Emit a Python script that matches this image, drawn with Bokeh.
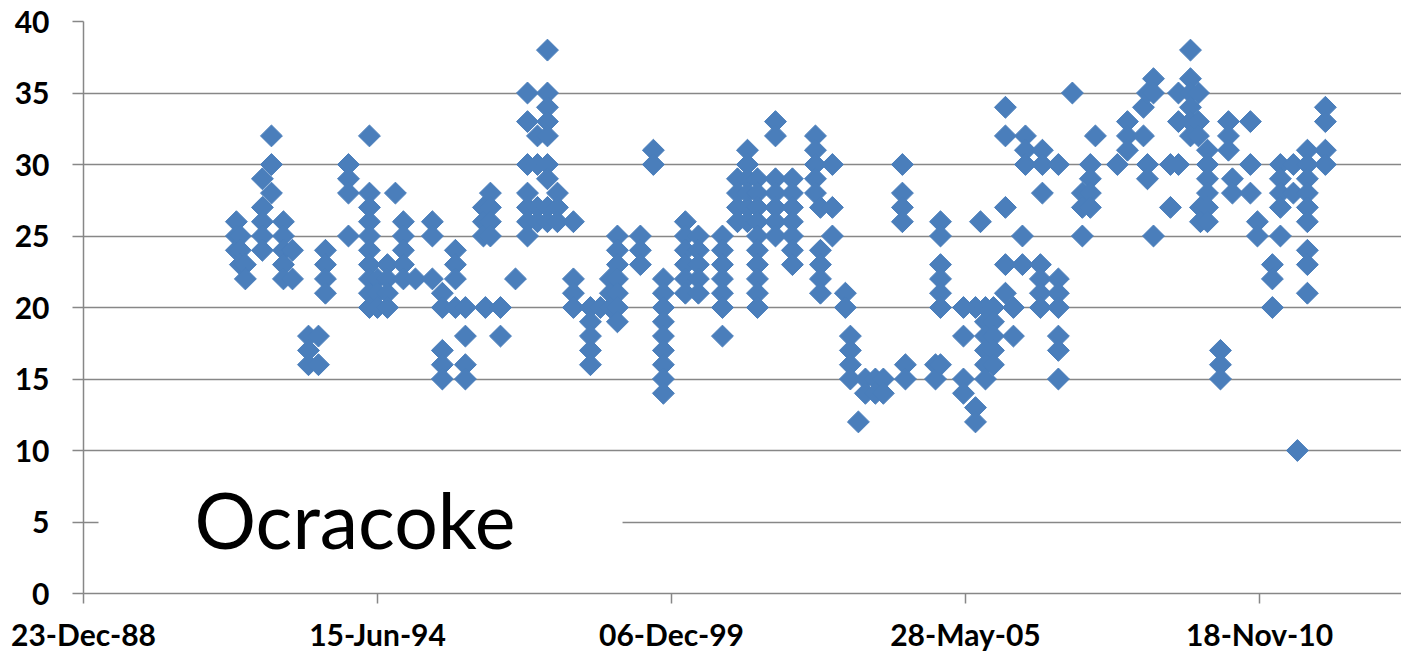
import datetime as dt
from bokeh.plotting import figure
from bokeh.models import (FixedTicker, DatetimeTickFormatter, BoxAnnotation, Label,
                          ColumnDataSource, Range1d)
from bokeh.embed import file_html
from bokeh.resources import INLINE

# ---- data: sampling date (decimal year) and values ----
sample_year = [
    1991.825, 1991.899, 1991.992, 1992.309, 1992.477, 1992.700, 1992.868, 1993.166,
    1993.352, 1993.482, 1993.911, 1994.302, 1994.451, 1994.637, 1994.786, 1994.935,
    1995.159, 1995.475, 1995.661, 1995.904, 1996.090, 1996.425, 1996.462, 1996.555,
    1996.742, 1997.021, 1997.245, 1997.431, 1997.617, 1997.803, 1998.101, 1998.418,
    1998.604, 1998.790, 1998.921, 1999.349, 1999.591, 1999.778, 2000.187, 2000.429,
    2000.876, 2001.156, 2001.342, 2001.528, 2001.864, 2002.180, 2002.609, 2002.702,
    2002.925, 2003.167, 2003.260, 2003.409, 2003.540, 2003.726, 2003.875, 2004.229,
    2004.285, 2004.844, 2004.937, 2005.365, 2005.589, 2005.682, 2005.775, 2005.924,
    2006.147, 2006.296, 2006.464, 2006.520, 2006.799, 2006.836, 2007.134, 2007.395,
    2007.581, 2007.730, 2007.824, 2008.233, 2008.420, 2008.718, 2008.792, 2008.904,
    2009.220, 2009.369, 2009.593, 2009.742, 2009.779, 2009.910, 2010.152, 2010.301,
    2010.375, 2010.710, 2010.841, 2011.120, 2011.269, 2011.511, 2011.586, 2011.772,
    2012.107,
]
sample_values = [
    [26, 25, 24], [25, 24, 23], [23, 22], [29, 27, 26, 25, 24], [32, 30, 28],
    [26, 25, 24, 23, 22], [24, 22], [18, 17, 16],
    [18, 16], [24, 23, 22, 21], [30, 29, 28, 25], [32, 28, 27, 26, 25, 24, 23, 22, 21, 20],
    [22, 21, 20], [23, 22, 21, 20], [28], [26, 25, 24, 23, 22],
    [22], [26, 25, 22], [21, 20, 17, 16, 15], [24, 23, 22, 20], [20, 18, 16, 15],
    [27, 26, 25], [20], [28, 27, 26, 25],
    [20, 18], [22], [35, 33, 30, 28, 27, 26, 25], [32, 30, 27, 26],
    [38, 35, 34, 33, 32, 30, 29, 27, 26], [28, 27, 26], [26, 22, 21, 20], [20, 19, 18, 17, 16],
    [20], [22, 21, 20], [25, 24, 23, 22, 21, 20, 19], [25, 24, 23], [31, 30],
    [22, 21, 20, 19, 18, 17, 16, 15, 14], [26, 25, 24, 23, 22, 21], [25, 24, 23, 22, 21],
    [25, 24, 23, 22, 21, 20, 18], [29, 28, 27, 26], [31, 30, 29, 28, 27, 26],
    [29, 28, 27, 26, 25, 24, 23, 22, 21, 20], [33, 32, 29, 28, 27, 26, 25],
    [29, 28, 27, 26, 25, 24, 23], [32, 31, 30, 29, 28], [27, 24, 23, 22, 21],
    [30, 27, 25], [21, 20], [18, 17, 16, 15], [12], [15, 14], [15, 14], [15, 14],
    [30, 28, 27, 26],
    [16, 15], [16, 15], [26, 25, 23, 22, 21, 20, 16], [20, 18, 15, 14], [20, 13, 12],
    [26], [20, 19, 18, 17, 16, 15], [20, 19, 18, 17, 16],
    [34, 32, 27, 23, 21], [20, 18], [25, 23], [32, 31, 30], [23, 22, 21, 20],
    [31, 30, 28], [30, 22, 21, 20, 18, 17, 15], [35],
    [28, 27, 25], [30, 29, 28, 27], [32], [30], [33, 32, 31], [34, 32], [35, 30, 29],
    [36, 35, 25],
    [30, 27], [35, 33, 30], [38, 36, 35, 34, 33, 32], [35, 33, 32], [27, 26],
    [31, 30, 29, 28, 27, 26], [17, 16, 15], [33, 32, 31],
    [29, 28], [33, 30, 28], [26, 25], [23, 22, 20], [30, 29, 28, 27, 25], [30, 28], [10],
    [31, 30, 29, 28, 27, 26, 24, 23, 21],
    [34, 33, 31, 30],
]
y_ticks = [0, 5, 10, 15, 20, 25, 30, 35, 40]
axis_start = dt.datetime(1988, 12, 23)
tick_step_days = 2000
chart_label = "Ocracoke"

EPOCH = dt.datetime(1970, 1, 1)


def ms(d):
    return (d - EPOCH).total_seconds() * 1000.0


def year_to_dt(y):
    yr = int(y)
    start = dt.datetime(yr, 1, 1)
    end = dt.datetime(yr + 1, 1, 1)
    return start + (end - start) * (y - yr)


xs, ys = [], []
for yr, vals in zip(sample_year, sample_values):
    d = year_to_dt(yr)
    for v in vals:
        xs.append(d)
        ys.append(v)

src = ColumnDataSource(dict(x=xs, y=ys))

W, H = 1401, 654
p = figure(width=W, height=H, x_axis_type="datetime", output_backend="svg",
           toolbar_location=None,
           x_range=Range1d(ms(axis_start), ms(axis_start + dt.timedelta(days=8966))),
           y_range=Range1d(0, 40),
           min_border_left=83, min_border_right=0, min_border_top=21, min_border_bottom=60)
p.outline_line_color = None
p.background_fill_color = "white"

GRID = "#878787"
FONT = "Lato"

x_ticks = [ms(axis_start + dt.timedelta(days=tick_step_days * k)) for k in range(5)]
p.xaxis.ticker = FixedTicker(ticks=x_ticks)
fmt = "%d-%b-%y"
p.xaxis.formatter = DatetimeTickFormatter(
    microseconds=fmt, milliseconds=fmt, seconds=fmt, minsec=fmt, minutes=fmt,
    hourmin=fmt, hours=fmt, days=fmt, months=fmt, years=fmt)
p.yaxis.ticker = FixedTicker(ticks=y_ticks)
p.ygrid.ticker = FixedTicker(ticks=y_ticks)
p.xgrid.grid_line_color = None
p.ygrid.grid_line_color = GRID
p.ygrid.grid_line_width = 1.5

for ax in (p.xaxis, p.yaxis):
    ax.axis_line_color = GRID
    ax.axis_line_width = 1.5
    ax.major_tick_line_color = GRID
    ax.major_tick_line_width = 1.5
    ax.major_tick_in = 0
    ax.minor_tick_line_color = None
    ax.major_label_text_font = FONT
    ax.major_label_text_font_style = "bold"
    ax.major_label_text_font_size = "30px"
    ax.major_label_text_color = "black"

p.yaxis.major_tick_out = 11
p.yaxis.major_label_standoff = 23
p.xaxis.major_tick_out = 10
p.xaxis.major_label_standoff = 12

p.scatter("x", "y", source=src, marker="square", size=15.5, angle=0.785398,
          fill_color="#4A7EBB", line_color="#4A7EBB", line_width=1)

# white text box behind the station name
p.add_layout(BoxAnnotation(left=ms(axis_start + dt.timedelta(days=102)),
                           right=ms(axis_start + dt.timedelta(days=3667)),
                           bottom=3.4, top=8.7, fill_color="white", fill_alpha=1.0,
                           line_color=None, level="overlay"))
p.add_layout(Label(x=ms(axis_start + dt.timedelta(days=755)), y=5.2, text=chart_label,
                   text_font=FONT, text_font_size="77px", text_color="black",
                   text_baseline="alphabetic", level="overlay"))

open("out.html", "w").write(file_html(p, INLINE))
